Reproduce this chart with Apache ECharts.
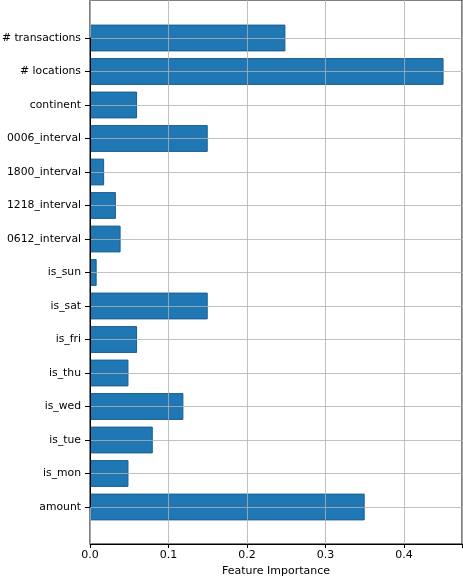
<!DOCTYPE html>
<html><head><meta charset="utf-8">
<script src="https://cdn.jsdelivr.net/npm/echarts@6/dist/echarts.min.js"></script>
<style>html,body{margin:0;padding:0;background:#fff}#c{width:463px;height:577px}</style>
</head><body><div id="c"></div>
<script>
var categories = ['amount','is_mon','is_tue','is_wed','is_thu','is_fri','is_sat','is_sun','0612_interval','1218_interval','1800_interval','0006_interval','continent','# locations','# transactions'];
var importance = [0.350,0.049,0.080,0.119,0.049,0.060,0.150,0.0085,0.039,0.033,0.018,0.150,0.060,0.4505,0.249];
var xTicks = [0, 0.1, 0.2, 0.3, 0.4];
var xMax = 0.474;

var font = 'DejaVu Sans';
var gridCol = 'rgba(176,176,176,0.8)';
var chart = echarts.init(document.getElementById('c'));
chart.setOption({
  animation: false,
  backgroundColor: '#fff',
  grid: [
    {left: 90, top: 0, width: 372, height: 544, show: true, borderColor: '#000', borderWidth: 1, backgroundColor: 'transparent', outerBoundsMode: 'none', containLabel: false},
    {left: 90, top: 38, width: 372, height: 469, outerBoundsMode: 'none', containLabel: false}
  ],
  xAxis: [
    {gridIndex: 0, type: 'value', min: 0, max: xMax, interval: 0.1, z: 5,
     name: 'Feature Importance', nameLocation: 'middle', nameGap: 21,
     nameTextStyle: {fontFamily: font, fontSize: 11, color: '#000'},
     axisLine: {show: true, onZero: false, lineStyle: {color: '#000'}},
     axisTick: {show: true, length: 4, lineStyle: {color: '#000'}},
     axisLabel: {fontFamily: font, fontSize: 11, color: '#000', margin: 6,
       formatter: function(v){ return xTicks.indexOf(Math.round(v*10)/10) >= 0 ? v.toFixed(1) : ''; }},
     splitLine: {show: true, lineStyle: {color: gridCol, width: 1}}},
    {gridIndex: 1, type: 'value', min: 0, max: xMax, show: false}
  ],
  yAxis: [
    {gridIndex: 0, type: 'value', min: 0, max: 1, show: false},
    {gridIndex: 1, type: 'category', data: categories, boundaryGap: false, z: 5,
     axisLine: {show: true, lineStyle: {color: '#000'}},
     axisTick: {show: true, length: 5, alignWithLabel: true, lineStyle: {color: '#000'}},
     axisLabel: {fontFamily: font, fontSize: 10.8, color: '#000', margin: 9, interval: 0},
     splitLine: {show: true, interval: 0, lineStyle: {color: gridCol, width: 1}}}
  ],
  series: [{
    type: 'bar', xAxisIndex: 1, yAxisIndex: 1, z: 1,
    data: importance, barWidth: '80%',
    itemStyle: {color: '#1f77b4', borderColor: '#1a5d8f', borderWidth: 1}
  }]
});
</script></body></html>
